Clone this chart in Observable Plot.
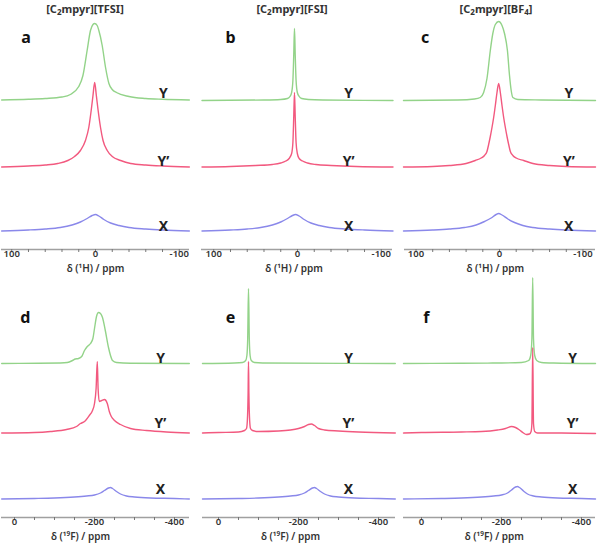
<!DOCTYPE html>
<html><head><meta charset="utf-8">
<script src="https://cdn.jsdelivr.net/npm/d3@7"></script>
<script src="https://cdn.jsdelivr.net/npm/@observablehq/plot@0.6"></script>
<style>
body{margin:0;background:#fff;font-family:"Noto Sans","Open Sans",sans-serif;}
#root{position:relative;width:600px;height:546px;overflow:hidden;background:#fff;}
.title{position:absolute;font-weight:bold;font-size:11px;color:#333;transform:translateX(-50%);white-space:nowrap;top:1px;line-height:16px;}
.title sub{font-size:8px;vertical-align:-2px;line-height:0;}
.panel{position:absolute;}
</style></head><body><div id="root"></div>
<script>
// ---------- data ----------
const titles = ["[C\u2082mpyr][TFSI]", "[C\u2082mpyr][FSI]", "[C\u2082mpyr][BF\u2084]"];
const panelLetters = ["a", "b", "c", "d", "e", "f"];
const traceNames = ["Y", "Y\u2019", "X"];
const axisTitles = ["\u03b4 (\u00b9H) / ppm", "\u03b4 (\u00b9\u2079F) / ppm"];
const hMajorTicks = [100, 0, -100];
const hMinorTicks = [100, 80, 60, 40, 20, 0, -20, -40, -60, -80, -100];
const fMajorTicks = [0, -200, -400];
const fMinorTicks = [0, -50, -100, -150, -200, -250, -300, -350, -400];

// spectra: [ppm, intensity]
const aY = [[112,0.5],[80,1.2],[60,2],[40,3.5],[30,6],[20,14],[15,25],[10,50],[6,70],[3,76],[1,77],[-2,75],[-4,70],[-8,55],[-12,33],[-16,17],[-20,11],[-25,8],[-40,4],[-60,2],[-80,1.2],[-112,0.5]];
const aYp = [[112,0.5],[80,1.5],[60,2.5],[45,4],[33,7],[25,11],[18,17],[12,27],[8,40],[5,58],[3,72],[1,85],[-1,72],[-3,58],[-6,40],[-9,27],[-14,17],[-20,11],[-30,7],[-42,4],[-60,2.5],[-80,1.5],[-112,0.5]];
const aX = [[112,0.5],[80,1.5],[60,2.5],[42,4],[28,6.5],[18,9.5],[10,13],[4,16],[0,17],[-4,15.5],[-10,12],[-18,8.5],[-28,6],[-40,4],[-60,2.5],[-80,1.5],[-112,0.5]];

const bY = [[114,0],[40,0.5],[20,1],[12,2],[9,4],[7,8],[5.5,20],[4.5,45],[3.6,72],[2.7,45],[1.7,20],[0.2,8],[-2,4],[-5,2],[-13,1],[-30,0.5],[-114,0]];
const bYp = [[114,0.5],[80,1],[50,2],[30,3],[20,4.5],[14,6.5],[10,9],[7,14],[5.5,25],[4.5,50],[3.6,75],[2.7,50],[1.7,25],[0.2,14],[-2,9],[-6,6.5],[-12,4.5],[-22,3],[-40,2],[-70,1],[-114,0.5]];
const bX = [[114,0.5],[80,1.5],[60,2.5],[44,4],[30,6.5],[20,9.5],[12,13],[6,16],[2.4,17],[-2,15.5],[-8,12],[-16,8.5],[-26,6],[-38,4],[-58,2.5],[-80,1.5],[-114,0.5]];

const cY = [[115,0],[50,0.5],[30,1.5],[23,3],[19,8],[15,22],[11,50],[8,67],[5,76],[1,79],[-3,75],[-6,67],[-9.5,50],[-12,25],[-14,10],[-16,3],[-22,1],[-50,0.5],[-115,0]];
const cYp = [[115,0.5],[80,1],[60,2],[40,4],[29,7],[22,9.5],[18,12],[15,16],[13,23],[11,31],[9,40],[7,50],[5,62],[3,75],[1,84],[-1,75],[-3,62],[-5,50],[-7,40],[-9,31],[-11,23],[-13,16],[-16,12],[-20,9.5],[-29,7],[-40,4],[-60,2],[-80,1],[-115,0.5]];
const cX = [[115,0.5],[80,1.5],[60,2.5],[42,4],[28,6.5],[18,10],[10,13.5],[4,17],[1,18],[-3,16.5],[-10,12.5],[-18,9],[-28,6],[-40,4],[-60,2.5],[-80,1.5],[-115,0.5]];

const dY = [[32,0],[-60,0.3],[-115,0.5],[-132,1],[-145,3],[-152,4.5],[-160,5],[-168,7],[-175,13],[-182,17],[-190,20],[-196,25],[-200,35],[-205,47],[-210,51],[-215,50],[-220,46],[-227,33],[-235,16],[-240,8],[-245,3],[-255,1],[-290,0.3],[-437,0]];
const dYp = [[32,0.5],[-50,1],[-90,2],[-130,4],[-155,7],[-165,10],[-175,12],[-187,18],[-195,23],[-200,30],[-204,45],[-207,72],[-209,45],[-212,32],[-218,33],[-225,34],[-232,30],[-237,22],[-242,17],[-250,13],[-265,9],[-290,5],[-330,3],[-380,1.5],[-437,0.5]];
const dX = [[32,0.5],[-50,1],[-100,1.5],[-150,2.5],[-180,3.5],[-200,4.5],[-215,6.5],[-225,9],[-235,11.5],[-240,12],[-245,11],[-255,8],[-265,5.5],[-280,3.5],[-300,2.5],[-340,1.5],[-400,1],[-437,0.5]];

const eY = [[40,0],[-40,0.5],[-60,1],[-68,3],[-71,8],[-73,25],[-75,75],[-77,25],[-79,8],[-82,3],[-90,1],[-110,0.5],[-442,0]];
const eYp = [[40,0.5],[0,1],[-50,1.5],[-65,3],[-70,5],[-72,12],[-74,40],[-75,72],[-76,40],[-78,12],[-80,5],[-85,3],[-100,2],[-150,2.5],[-180,3.5],[-200,5],[-215,7],[-225,9],[-232,9.5],[-240,8],[-250,5],[-265,3.5],[-300,2.5],[-350,1.5],[-442,0.5]];
const eX = [[40,0.5],[-50,1],[-100,1.5],[-150,2.5],[-180,3.5],[-200,4.5],[-215,6.5],[-225,9],[-235,11.5],[-240,12],[-245,11],[-255,8],[-265,5.5],[-280,3.5],[-300,2.5],[-340,1.5],[-400,1],[-442,0.5]];

const fY = [[45,0],[-100,0.3],[-200,0.5],[-250,1],[-268,3],[-273,8],[-276,25],[-278,86],[-280,25],[-283,8],[-288,3],[-300,1],[-330,0.5],[-435,0]];
const fYp = [[45,0.5],[0,1],[-100,1.5],[-150,2],[-190,3.5],[-210,5],[-225,7],[-235,6],[-245,3.5],[-255,0.5],[-262,-1],[-270,-0.5],[-274,2],[-276,10],[-278,86],[-280,10],[-283,2],[-290,0.5],[-350,0.5],[-435,0]];
const fX = [[45,0.5],[-50,1],[-100,1.5],[-150,2.5],[-180,3.5],[-200,4.5],[-215,6.5],[-225,9.5],[-235,12.5],[-240,13],[-245,12],[-255,8.5],[-265,5.5],[-280,3.5],[-300,2.5],[-340,1.5],[-400,1],[-435,0.5]];

const spectra = [[aY, aYp, aX], [bY, bYp, bX], [cY, cYp, cX], [dY, dYp, dX], [eY, eYp, eX], [fY, fYp, fX]];

// ---------- layout / style ----------
const colors = ["#93d389", "#f2597f", "#8a88ea"];
const rows = [
  {top: 0, height: 276, frame: 249, offsets: [149, 82, 18], labelDy: [7, 6, 5], letterY: 212, axisTitle: axisTitles[0], major: hMajorTicks, minor: hMinorTicks, tickPad: 1, tickFont: 9.5, titleDy: 22},
  {top: 276, height: 270, frame: 241, offsets: [154, 84, 18], labelDy: [5, 10, 10], letterY: 200, axisTitle: axisTitles[1], major: fMajorTicks, minor: fMinorTicks, tickPad: 1, tickFont: 9.5, titleDy: 22}
];
const panels = [
  {row: 0, left: 1, width: 188, domain: [112.2, -112.2], letterX: 83, labelX: -81, titleX: 0},
  {row: 0, left: 201, width: 191, domain: [114.6, -113.4], letterX: 80, labelX: -61, titleX: 4},
  {row: 0, left: 404, width: 191, domain: [113.8, -115], letterX: 89, labelX: -83, titleX: 5},
  {row: 1, left: 1, width: 188, domain: [32.5, -437.5], letterX: -27, labelX: -365, titleX: -165},
  {row: 1, left: 202, width: 193, domain: [40, -442.5], letterX: -30, labelX: -325, titleX: -180},
  {row: 1, left: 403, width: 192, domain: [45, -435], letterX: -12, labelX: -378, titleX: -182}
];

const root = document.getElementById("root");
const titleCenters = [85, 292, 496];
titles.forEach((t, i) => {
  const div = document.createElement("div");
  div.className = "title";
  div.style.left = titleCenters[i] + "px";
  div.innerHTML = t.replace("\u2082", "<sub>2</sub>").replace("\u2084", "<sub>4</sub>");
  root.appendChild(div);
});

panels.forEach((p, k) => {
  const r = rows[p.row];
  const marks = [];
  marks.push(Plot.ruleY([0], {stroke: "#a0a0a0", strokeWidth: 1.6}));
  marks.push(Plot.axisX(r.minor, {tickSize: 3, text: null, stroke: "#777", label: null}));
  marks.push(Plot.axisX(r.major, {tickSize: 0, tickPadding: r.tickPad, tickFormat: d => String(d), fontSize: r.tickFont, fontWeight: 600, fill: "#333", label: null}));
  marks.push(Plot.text([r.axisTitle], {x: p.titleX, frameAnchor: "bottom", dy: r.titleDy, fontSize: 10, fontWeight: 600, fill: "#333"}));
  spectra[k].forEach((s, i) => {
    marks.push(Plot.line(s, {x: d => d[0], y: d => d[1] + r.offsets[i], stroke: colors[i], strokeWidth: 1.4, curve: "monotone-x"}));
    marks.push(Plot.text([traceNames[i]], {x: p.labelX, y: r.offsets[i] + r.labelDy[i], fontSize: 14, fontWeight: "bold", fill: "#222"}));
  });
  marks.push(Plot.text([panelLetters[k]], {x: p.letterX, y: r.letterY, fontSize: 16, fontWeight: "bold", fill: "#111"}));
  const svg = Plot.plot({
    width: p.width, height: r.height,
    marginLeft: 0, marginRight: 0, marginTop: 0, marginBottom: r.height - r.frame,
    x: {domain: p.domain},
    y: {domain: [0, r.frame], axis: null},
    style: {background: "transparent", overflow: "visible", fontFamily: "'Noto Sans', 'Open Sans', sans-serif"},
    marks
  });
  svg.classList.add("panel");
  svg.style.left = p.left + "px";
  svg.style.top = r.top + "px";
  root.appendChild(svg);
});
</script></body></html>
